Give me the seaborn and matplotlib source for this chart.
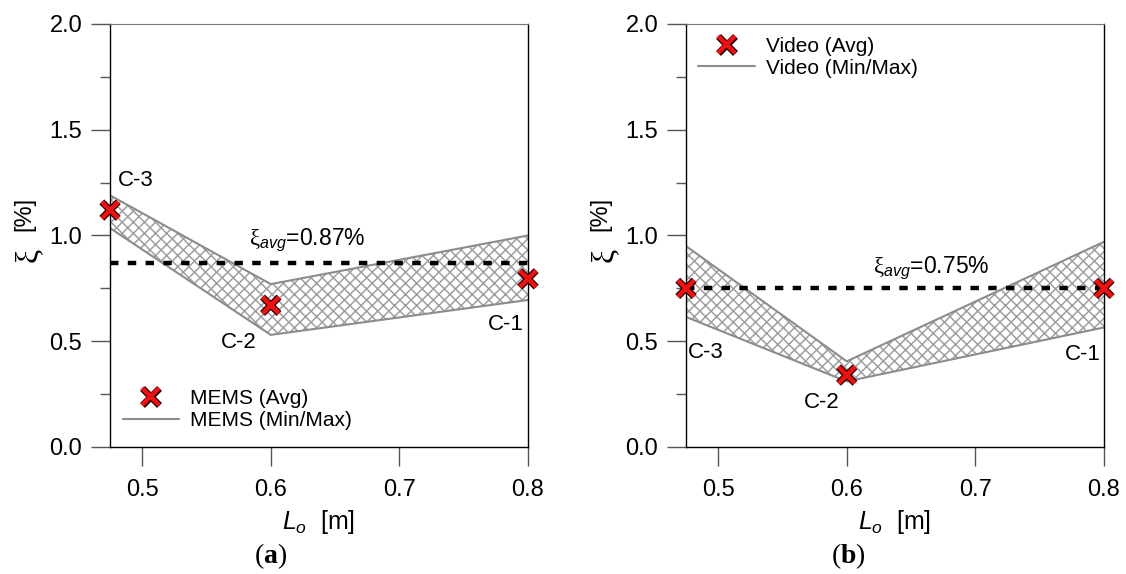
import numpy as np
import pandas as pd
import matplotlib
matplotlib.use('Agg')
import matplotlib.pyplot as plt
import matplotlib.patheffects as pe
from matplotlib.lines import Line2D
import seaborn as sns

sns.set_style('ticks')
plt.rcParams['font.family'] = ['Liberation Sans', 'DejaVu Sans']
plt.rcParams['text.color'] = 'black'
plt.rcParams['xtick.labelcolor'] = 'black'
plt.rcParams['ytick.labelcolor'] = 'black'
plt.rcParams['axes.labelcolor'] = 'black'
plt.rcParams['mathtext.fontset'] = 'custom'
plt.rcParams['mathtext.rm'] = 'Liberation Sans'
plt.rcParams['mathtext.it'] = 'Liberation Sans:italic'
plt.rcParams['mathtext.sf'] = 'Liberation Serif'
plt.rcParams['mathtext.bf'] = 'Liberation Serif:bold'
plt.rcParams['hatch.linewidth'] = 1.1

# Cable length L0 [m] for specimens C-3, C-2, C-1
length = [0.475, 0.6, 0.8]
cases = ['C-3', 'C-2', 'C-1']

# Damping ratio [%] from MEMS sensors
mems_avg = [1.12, 0.67, 0.795]
mems_min = [1.035, 0.53, 0.695]
mems_max = [1.19, 0.77, 1.0]
mems_mean = 0.87

# Damping ratio [%] from video
video_avg = [0.75, 0.34, 0.75]
video_min = [0.615, 0.31, 0.565]
video_max = [0.95, 0.405, 0.97]
video_mean = 0.75

GREY = '#8c8c8c'
RED = '#ee1111'
FS = 17
outline = [pe.Stroke(linewidth=5, foreground='#2a0000'), pe.Normal()]


def draw_panel(ax, name, avg, lo, hi, mean, label_offsets, mean_x, mean_dy, legend_loc, legend_anchor):
    df = pd.DataFrame({'L0': length, 'avg': avg, 'min': lo, 'max': hi, 'case': cases})

    # hatched min/max band
    ax.fill_between(df['L0'], df['min'], df['max'], facecolor='white',
                    edgecolor='#a0a0a0', hatch='xxx', linewidth=0, zorder=1)
    sns.lineplot(data=df, x='L0', y='min', color=GREY, lw=1.5, ax=ax, zorder=2)
    sns.lineplot(data=df, x='L0', y='max', color=GREY, lw=1.5, ax=ax, zorder=2)

    # mean line
    ax.axhline(mean, color='black', lw=3.2, dashes=(1.9, 2.1), zorder=3)
    ax.annotate(r'$\mathsf{\xi}_{avg}$=%.2f%%' % mean, xy=(mean_x, mean), xytext=(0, mean_dy),
                textcoords='offset points', ha='center', va='center', fontsize=16.5)

    sns.scatterplot(data=df, x='L0', y='avg', marker='x', s=140, color=RED,
                    linewidth=3.2, ax=ax, zorder=5, clip_on=False, path_effects=outline)

    for (x, y, c), (dx, dy) in zip(zip(df['L0'], df['avg'], df['case']), label_offsets):
        ax.annotate(c, xy=(x, y), xytext=(dx, dy), textcoords='offset points',
                    ha='center', va='center', fontsize=16)

    ax.set_xlim(0.475, 0.8)
    ax.set_ylim(0, 2)
    ax.set_xticks([0.5, 0.6, 0.7, 0.8])
    ax.set_yticks([0, 0.5, 1.0, 1.5, 2.0])
    ax.set_yticks(np.arange(0.25, 2.0, 0.5), minor=True)
    ax.xaxis.set_major_formatter(matplotlib.ticker.FormatStrFormatter('%.1f'))
    ax.yaxis.set_major_formatter(matplotlib.ticker.FormatStrFormatter('%.1f'))
    ax.tick_params(axis='both', which='major', direction='out', length=14, width=1,
                   color='#555555', labelsize=FS, pad=6)
    ax.tick_params(axis='x', which='major', pad=9)
    ax.tick_params(axis='y', which='minor', direction='out', length=7, width=1, color='#555555')
    for s in ['left', 'right', 'bottom']:
        ax.spines[s].set_color('black')
        ax.spines[s].set_linewidth(1)
    ax.spines['top'].set_color('#777777')
    ax.set_xlabel(r'$L_o$  [m]', fontsize=18, labelpad=5)
    ax.set_ylabel('')
    # y label: large serif xi followed by [%]
    ax.text(-0.195, 0.455, 'ξ', family='Liberation Serif', fontsize=23, rotation=90,
            ha='center', va='center', transform=ax.transAxes)
    ax.text(-0.205, 0.55, '[%]', fontsize=17, rotation=90,
            ha='center', va='center', transform=ax.transAxes)

    handles = [
        Line2D([], [], ls='none', marker='x', markersize=12, color=RED,
               markeredgewidth=3.2, path_effects=outline),
        Line2D([], [], color=GREY, lw=1.5),
    ]
    ax.legend(handles, [name + ' (Avg)', name + ' (Min/Max)'], loc=legend_loc,
              bbox_to_anchor=legend_anchor, frameon=False, fontsize=15,
              handlelength=2.7, handletextpad=0.55, labelspacing=0.15, borderaxespad=0)


fig = plt.figure(figsize=(11.26, 5.74), dpi=100)
ax1 = fig.add_axes([0.0977, 0.2213, 0.3712, 0.7369])
ax2 = fig.add_axes([0.6092, 0.2213, 0.3712, 0.7369])

draw_panel(ax1, 'MEMS', mems_avg, mems_min, mems_max, mems_mean,
           [(18.5, 21), (-23, -26.5), (-16, -33)], 0.6286, 16.5, 'lower left', (0.01, 0.02))
draw_panel(ax2, 'Video', video_avg, video_min, video_max, video_mean,
           [(14.5, -46), (-18, -19.5), (-15, -47.5)], 0.666, 14.5, 'upper left', (0.01, 0.99))

fig.text(0.2407, 0.031, r'($\mathbf{a}$)', family='Liberation Serif', fontsize=20, ha='center', va='center')
fig.text(0.753, 0.031, r'($\mathbf{b}$)', family='Liberation Serif', fontsize=20, ha='center', va='center')

fig.savefig('out.png', dpi=100)
